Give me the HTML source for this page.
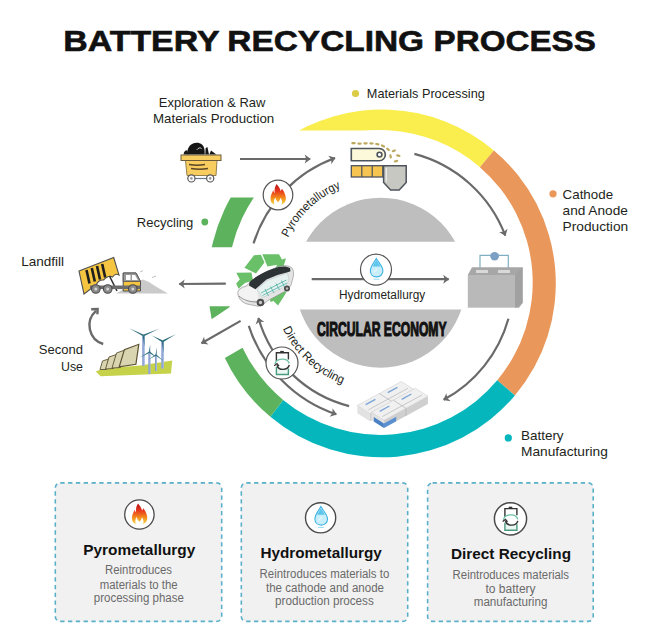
<!DOCTYPE html>
<html><head><meta charset="utf-8"><style>
html,body{margin:0;padding:0;background:#fff;}
body{width:650px;height:629px;position:relative;overflow:hidden;font-family:"Liberation Sans",sans-serif;}
svg.main{position:absolute;left:0;top:0;}
</style></head><body>
<svg class="main" width="650" height="629" viewBox="0 0 650 629">
<defs>
 <clipPath id="cy"><rect x="375" y="0" width="300" height="400"/><rect x="0" y="0" width="400" height="130.5"/></clipPath>
 <clipPath id="cg1"><rect x="0" y="197.6" width="400" height="49.6"/></clipPath>
 <clipPath id="cg2"><polygon points="195,306.2 231,306.2 200,327"/></clipPath>
 <clipPath id="cd"><rect x="0" y="0" width="650" height="241.8"/><rect x="0" y="309.4" width="650" height="100"/></clipPath>
 <marker id="ah" viewBox="-6 -5 7 10" refX="0" refY="0" markerWidth="7" markerHeight="10" markerUnits="userSpaceOnUse" orient="auto">
   <path d="M0.5,0 L-5.5,-4.5 L-4,0 L-5.5,4.5 Z" fill="#6a6a6a"/>
 </marker>
 <linearGradient id="gfl" gradientUnits="userSpaceOnUse" x1="0" y1="-11" x2="0" y2="9.5"><stop offset="0" stop-color="#b5121b"/><stop offset="0.35" stop-color="#e8391d"/><stop offset="0.7" stop-color="#f3921d"/><stop offset="1" stop-color="#f6d54a"/></linearGradient>
</defs>
<path d="M282.16,140.95 A173.9,173.9 0 0 1 493.91,150.38 L479.88,167.13 A152.4,152.4 0 0 0 292.89,157.66 Z" fill="#f9ee4e" clip-path="url(#cy)"/>
<path d="M493.91,150.38 A173.9,173.9 0 0 1 514.92,395.41 L497.22,380.26 A152.4,152.4 0 0 0 479.88,167.13 Z" fill="#e9975a"/>
<path d="M514.92,395.41 A173.9,173.9 0 0 1 270.35,416.81 L283.16,399.93 A152.4,152.4 0 0 0 497.22,380.26 Z" fill="#05b6bc"/>
<path d="M270.35,416.81 A173.9,173.9 0 0 1 224.81,357.99 L242.52,347.63 A152.4,152.4 0 0 0 283.16,399.93 Z" fill="#5db35d"/>
<path d="M218.49,342.88 A173.9,173.9 0 0 1 322.42,119.99 L328.18,139.29 A152.4,152.4 0 0 0 237.09,334.62 Z" fill="#5db35d" clip-path="url(#cg1)"/>
<path d="M218.49,342.88 A173.9,173.9 0 0 1 218.49,223.92 L237.09,230.38 A152.4,152.4 0 0 0 237.09,334.62 Z" fill="#5db35d" clip-path="url(#cg2)"/>
<circle cx="380.6" cy="282.7" r="85" fill="#bebebe" clip-path="url(#cd)"/>
<path d="M240,159 L310.2,159" stroke="#6a6a6a" stroke-width="2.2" fill="none" marker-end="url(#ah)"/>
<path d="M253.52,243.45 A133,133 0 0 1 335.01,158.02" stroke="#6a6a6a" stroke-width="2.2" fill="none" marker-end="url(#ah)"/>
<path d="M414.38,153.87 A133.5,133.5 0 0 1 505.30,235.59" stroke="#6a6a6a" stroke-width="2.2" fill="none" marker-end="url(#ah)"/>
<path d="M508.41,318.71 A132.8,132.8 0 0 1 443.66,399.82" stroke="#6a6a6a" stroke-width="2.2" fill="none" marker-end="url(#ah)"/>
<path d="M311.7,279.2 L448.7,279.2" stroke="#6a6a6a" stroke-width="2.2" fill="none" marker-end="url(#ah)"/>
<path d="M225.8,283.6 L179.2,284" stroke="#6a6a6a" stroke-width="2.2" fill="none" marker-end="url(#ah)"/>
<path d="M240.6,320.9 L201.5,343.3" stroke="#6a6a6a" stroke-width="2.2" fill="none" marker-end="url(#ah)"/>
<path d="M349.13,406.06 A127,127 0 0 1 258.42,318.01" stroke="#6a6a6a" stroke-width="2.2" fill="none" marker-end="url(#ah)"/>
<path d="M248.78,325.80 A138.5,138.5 0 0 0 336.32,414.27" stroke="#6a6a6a" stroke-width="2.2" fill="none" marker-end="url(#ah)"/>
<path d="M103.2,344 A19.5,19.5 0 0 1 96,310.8" stroke="#6a6a6a" stroke-width="2.4" fill="none"/>
<path d="M91.2,309.2 L97.6,309 L97.4,314.2" stroke="#6a6a6a" stroke-width="2.4" fill="none" stroke-linejoin="miter"/>
<circle cx="278" cy="195" r="14.8" fill="#fff" stroke="#555" stroke-width="1.2"/><g transform="translate(278,195)"><path d="M-1.3,-11 C0.2,-8.5 2.2,-7 2.6,-3.8 C3.1,-4.6 3.5,-5.3 3.9,-6.2 C6.3,-3.2 8,0.5 7.9,3.8 C7.8,6.8 6,8.7 3.6,9.5 C4.5,7 4,4.5 2.5,2.8 C2.2,5 1,6.5 0,7.2 C-1.2,6.3 -2.3,4.6 -2.6,2.6 C-3.8,4 -4.6,6.5 -3.6,9.5 C-6,8.8 -7.6,6.6 -7.5,3.5 C-7.4,0.5 -6,-2.2 -4.7,-4.8 C-4.4,-3.6 -4,-2.6 -3.3,-1.9 C-3.7,-5.5 -3.2,-8.6 -1.3,-11 Z" fill="url(#gfl)"/></g>
<circle cx="376" cy="269.6" r="15.5" fill="#fff" stroke="#555" stroke-width="1.2"/><g transform="translate(376,269.6)"><path d="M0.3,-11.2 C2.5,-7 6.9,-3.3 6.9,1.2 C6.9,4.9 4.2,7.3 0.6,7.3 C-3,7.3 -5.7,4.9 -5.7,1.2 C-5.7,-3.3 -1.9,-7 0.3,-11.2 Z" fill="#c9eefb" stroke="#3cb1e3" stroke-width="1.1"/><path d="M0.3,-9.5 C1.5,-7 3.5,-5 4.2,-3 L-3.4,-3 C-2.5,-5 -0.9,-7 0.3,-9.5 Z" fill="#5cc5ec"/><path d="M-2,2.5 L1.5,-1" stroke="#e8f8fd" stroke-width="1.2"/><path d="M-2.5,9.6 L3.5,9.6" stroke="#9adaf1" stroke-width="1"/></g>
<circle cx="282" cy="363" r="16" fill="#fff" stroke="#555" stroke-width="1.2"/><g transform="translate(282,363)"><path d="M-1.8,-11.3 L1.8,-11.3" stroke="#333" stroke-width="1.6"/><path d="M-5.6,-2 L-5.6,-10.2 L6.4,-10.2 L6.4,-3.5" stroke="#333" stroke-width="1.4" fill="none"/><path d="M-5.6,4 L-5.6,11.5 L6.4,11.5 L6.4,5.5" stroke="#4a9a80" stroke-width="1.4" fill="#eaf7f2"/><path d="M-7,1 C-6,-5 5.5,-6 7.2,0.5" stroke="#6dbfa5" stroke-width="1.3" fill="none"/><path d="M7.3,2 C6,7.5 -3.5,8 -5,2.2" stroke="#333" stroke-width="1.4" fill="none"/><path d="M-7.8,2.8 L-5,0.6 L-3,3.2" stroke="#333" stroke-width="1.3" fill="none"/></g>
<path id="pyp" d="M287.15,239.47 A103,103 0 0 1 366.17,181.00" fill="none"/>
<text font-family="Liberation Sans" font-size="12" fill="#231f20"><textPath href="#pyp" startOffset="2" textLength="74" lengthAdjust="spacingAndGlyphs">Pyrometallurgy</textPath></text>
<path id="drp" d="M280.55,323.38 A107.8,107.8 0 0 0 371.10,390.39" fill="none"/>
<text font-family="Liberation Sans" font-size="12" fill="#231f20"><textPath href="#drp" startOffset="6" textLength="83" lengthAdjust="spacingAndGlyphs">Direct Recycling</textPath></text>
<text x="158.8" y="106.9" font-family="Liberation Sans" font-size="13.1" font-weight="normal" fill="#231f20" text-anchor="start" textLength="106.6" lengthAdjust="spacingAndGlyphs">Exploration &amp; Raw</text>
<text x="153.0" y="123.1" font-family="Liberation Sans" font-size="13.1" font-weight="normal" fill="#231f20" text-anchor="start" textLength="121.2" lengthAdjust="spacingAndGlyphs">Materials Production</text>
<circle cx="355.5" cy="93.5" r="3.6" fill="#dccb45"/>
<text x="366.8" y="97.7" font-family="Liberation Sans" font-size="13.1" font-weight="normal" fill="#231f20" text-anchor="start" textLength="118.0" lengthAdjust="spacingAndGlyphs">Materials Processing</text>
<circle cx="553" cy="193.8" r="3.6" fill="#e9975a"/>
<text x="562.6" y="198.5" font-family="Liberation Sans" font-size="13.1" font-weight="normal" fill="#231f20" text-anchor="start" textLength="50.5" lengthAdjust="spacingAndGlyphs">Cathode</text>
<text x="562.6" y="214.8" font-family="Liberation Sans" font-size="13.1" font-weight="normal" fill="#231f20" text-anchor="start" textLength="65.2" lengthAdjust="spacingAndGlyphs">and Anode</text>
<text x="562.6" y="231.3" font-family="Liberation Sans" font-size="13.1" font-weight="normal" fill="#231f20" text-anchor="start" textLength="65.6" lengthAdjust="spacingAndGlyphs">Production</text>
<circle cx="508.3" cy="437.9" r="3.6" fill="#05b6bc"/>
<text x="521.0" y="440.3" font-family="Liberation Sans" font-size="13.1" font-weight="normal" fill="#231f20" text-anchor="start" textLength="42.6" lengthAdjust="spacingAndGlyphs">Battery</text>
<text x="521.0" y="456.3" font-family="Liberation Sans" font-size="13.1" font-weight="normal" fill="#231f20" text-anchor="start" textLength="86.8" lengthAdjust="spacingAndGlyphs">Manufacturing</text>
<text x="136.8" y="226.5" font-family="Liberation Sans" font-size="13.1" font-weight="normal" fill="#231f20" text-anchor="start" textLength="56.5" lengthAdjust="spacingAndGlyphs">Recycling</text>
<circle cx="204.8" cy="222" r="3.4" fill="#5db35d"/>
<text x="21.2" y="266.2" font-family="Liberation Sans" font-size="13.1" font-weight="normal" fill="#231f20" text-anchor="start" textLength="42.9" lengthAdjust="spacingAndGlyphs">Landfill</text>
<text x="83.0" y="354.3" font-family="Liberation Sans" font-size="13.1" font-weight="normal" fill="#231f20" text-anchor="end" textLength="44.2" lengthAdjust="spacingAndGlyphs">Second</text>
<text x="83.0" y="370.5" font-family="Liberation Sans" font-size="13.1" font-weight="normal" fill="#231f20" text-anchor="end" textLength="22.0" lengthAdjust="spacingAndGlyphs">Use</text>
<text x="339.0" y="299.2" font-family="Liberation Sans" font-size="12" font-weight="normal" fill="#231f20" text-anchor="start" textLength="86.2" lengthAdjust="spacingAndGlyphs">Hydrometallurgy</text>
<text x="317" y="336.3" font-family="Liberation Sans" font-size="19.4" font-weight="bold" fill="#111" stroke="#111" stroke-width="1.1" textLength="129.6" lengthAdjust="spacingAndGlyphs">CIRCULAR ECONOMY</text>
<text x="63.2" y="50.8" font-family="Liberation Sans" font-size="30.3" font-weight="bold" fill="#111" stroke="#111" stroke-width="0.6" textLength="156.4" lengthAdjust="spacingAndGlyphs">BATTERY</text>
<text x="227.3" y="50.8" font-family="Liberation Sans" font-size="30.3" font-weight="bold" fill="#111" stroke="#111" stroke-width="0.6" textLength="196.8" lengthAdjust="spacingAndGlyphs">RECYCLING</text>
<text x="433.6" y="50.8" font-family="Liberation Sans" font-size="30.3" font-weight="bold" fill="#111" stroke="#111" stroke-width="0.6" textLength="162.2" lengthAdjust="spacingAndGlyphs">PROCESS</text>

<g>
 <path d="M187.6,154.5 C186.8,150.5 188.5,146.5 191.2,144.6 C193,142.6 198,141.8 201,143.8 C203.6,145.4 205,148.5 204.7,154.5 Z" fill="#161616"/>
 <path d="M183.6,154.5 C183.6,152 185,150.2 187.2,150.2 L188.4,154.5 Z" fill="#161616"/>
 <path d="M205.3,154.5 L205.6,148.2 L207.4,147 L209,154.5 Z" fill="#161616"/>
 <path d="M209.4,154.5 L211,150.6 L216.4,154.5 Z" fill="#161616"/>
 <path d="M196.8,149.8 C198.4,147.6 200.6,147.4 201.6,148.6" stroke="#fff" stroke-width="0.8" fill="none"/>
 <path d="M185.5,160.5 L217,160.5 L216,175.5 L187,175.5 Z" fill="#f7cd5f" stroke="#8a7444" stroke-width="0.9"/>
 <rect x="181" y="155" width="40" height="5.5" fill="#f7cd5f" stroke="#6b5b3b" stroke-width="1"/>
 <path d="M189,164.5 Q197,166 205,164.5" stroke="#5a4526" stroke-width="1.4" fill="none"/>
 <path d="M191,168.5 Q199.5,170 208,168.5" stroke="#5a4526" stroke-width="1.4" fill="none"/>
 <path d="M195,178.5 L206.5,178.5" stroke="#6a7890" stroke-width="1.2"/>
 <circle cx="191.4" cy="178.4" r="3.6" fill="#fff" stroke="#555" stroke-width="1.2"/>
 <circle cx="191.4" cy="178.4" r="1.3" fill="#999"/>
 <circle cx="210.2" cy="178.4" r="3.6" fill="#fff" stroke="#555" stroke-width="1.2"/>
 <circle cx="210.2" cy="178.4" r="1.3" fill="#999"/>
</g>

<g>
 <path d="M352.4,143.2 L354.6,143.2 M358.4,143.6 L360.6,143.6 M364.4,143.3 L366.6,143.3 M370.4,143.3 L372.6,143.5 M376.2,144.0 L378.4,144.4 M382.0,145.5 L384.0,146.5 M387.2,148.6 L388.8,150.0 M392.8,151.2 L394.8,150.4 M390.4,155.3 L390.8,157.5 M397.2,155.4 L399.4,155.8 M394.9,161.5 L397.1,160.9" stroke="#bca85e" stroke-width="2.2" stroke-linecap="round" fill="none"/>
 <path d="M351.3,148.5 L379.2,148.5 A6.15,6.15 0 0 1 379.2,160.8 L351.3,160.8 Z" fill="#fbf9d9" stroke="#4d545c" stroke-width="1.6"/>
 <circle cx="379.5" cy="154.6" r="2.4" fill="#fff" stroke="#4d545c" stroke-width="1.6"/>
 <rect x="351.3" y="165.7" width="31.5" height="11.3" fill="#f6c450" stroke="#4d545c" stroke-width="1.3"/>
 <path d="M361.8,165.7 L361.8,177 M372.2,165.7 L372.2,177" stroke="#4d545c" stroke-width="1.2"/>
 <path d="M383.6,165.7 L406.2,165.7 L406.2,182.4 L399.2,190 L390.6,190 L383.6,182.4 Z" fill="#c8c8c3" stroke="#4d545c" stroke-width="1.5"/>
 <path d="M386.3,168 L386.3,181.5" stroke="#eeeeea" stroke-width="1.2"/>
</g>

<g>
 <path d="M480,268 L480,255.3 L508.3,255.3 L508.3,268" stroke="#7fb0c2" stroke-width="1.2" fill="none"/>
 <circle cx="494.6" cy="256.2" r="4.3" fill="#7c9fc4"/>
 <path d="M467.8,275 L472,267.2 L522.6,267.2 L522.6,303 L519,307.7 L515,307.7 L515,275 Z" fill="#a7a7a7"/>
 <rect x="467.8" y="275" width="47.2" height="32.7" fill="#b9b9b9"/>
 <path d="M515,275 L522.6,267.2 L522.6,303 L515,307.7 Z" fill="#a1a1a1"/>
 <rect x="476" y="270" width="12" height="3" fill="#d9d9d9"/>
 <rect x="498" y="270" width="12" height="3" fill="#d9d9d9"/>
</g>
<g><path d="M369.9,413.5 L413.9,389.5 L413.9,397.3 L369.9,421.3 Z" fill="#cfcfcf"/><path d="M357.3,405.5 L369.9,413.5 L369.9,421.3 L357.3,413.3 Z" fill="#e2e2e2"/><path d="M357.3,405.5 L369.9,413.5 L413.9,389.5 L401.3,381.5 Z" fill="#f0f0f0" stroke="#c8c8c8" stroke-width="0.5"/><path d="M379.3,393.5 L391.9,401.5 L391.9,409.3" stroke="#b5b5b5" stroke-width="0.7" fill="none"/><path d="M365.7,404.6 L375.4,399.3" stroke="#7aa5d8" stroke-width="1.4"/><path d="M387.7,392.6 L397.4,387.3" stroke="#7aa5d8" stroke-width="1.4"/><path d="M368.3,409.9 L407.9,388.3" stroke="#bdbdbd" stroke-width="0.8"/><path d="M383.9,420.2 L427.9,396.2 L427.9,404.0 L383.9,428.0 Z" fill="#cfcfcf"/><path d="M371.3,412.2 L383.9,420.2 L383.9,428.0 L371.3,420.0 Z" fill="#e2e2e2"/><path d="M371.3,412.2 L383.9,420.2 L427.9,396.2 L415.3,388.2 Z" fill="#f0f0f0" stroke="#c8c8c8" stroke-width="0.5"/><path d="M393.3,400.2 L405.9,408.2 L405.9,416.0" stroke="#b5b5b5" stroke-width="0.7" fill="none"/><path d="M379.7,411.3 L389.4,406.0" stroke="#7aa5d8" stroke-width="1.4"/><path d="M401.7,399.3 L411.4,394.0" stroke="#7aa5d8" stroke-width="1.4"/><path d="M382.3,416.6 L421.9,395.0" stroke="#bdbdbd" stroke-width="0.8"/><path d="M373.8,417.0 L383.9,423.4 L383.9,428.0 L373.8,421.6 Z" fill="#4a80c4"/><path d="M383.9,423.4 L396.2,416.7 L396.2,421.3 L383.9,428.0 Z" fill="#5a8fd0"/></g>

<g>
 <path d="M244.4,267.7 L254,255.2 L260.8,254.8 L264.5,262.5 L256,273.4 Z" fill="#6abf69"/>
 <path d="M262.3,254.3 L279,254.3 L282,259.6 L286,258.2 L283.5,266.5 L275,268.5 L277.3,264.8 L267.5,266.5 Z" fill="#6abf69"/>
 <path d="M236.3,272.8 L251.5,272.4 L253,280.5 L245,283 L238.5,288.8 L236.2,283.5 L239.8,279.5 Z" fill="#6abf69"/>
 <path d="M268.5,292.5 L286.8,291.5 L283.5,297 L278,305.5 L273.5,301 L270.5,302 Z" fill="#6abf69"/>
 <path d="M237.8,293.5 C237.5,289.5 241,287.5 246,286 L250,282.5 C256,277 266,271 279,266.5 C284,265 289,265.5 291.5,267.5 C293.5,269.5 294,273 293.2,277 L291,285 C289,289 285,291.5 280,294 L268,300.5 C265,303 262,306.3 258,306.3 L247,304 C242,302.5 238.5,299 237.8,293.5 Z" fill="#e4e4e4" stroke="#8a8a8a" stroke-width="0.6"/>
 <path d="M238.6,292.5 C240,289.2 244,287.5 249,286.5 L257,289.5 L258.5,300 L246,301.5 C242,300.5 239.2,297 238.6,292.5 Z" fill="#f3f3f3"/>
 <path d="M249.5,282 C256,276 265,271 278.5,267 C283,266 287.5,266.3 290,268 L290.5,271.2 L287.7,272.2 L277.5,274.9 L266.5,279.5 L255.4,289.2 L249,285.5 Z" fill="#2d3235"/>
 <path d="M257,289.5 L267,280.5 L287.5,273 L289,280 L286,286 L262.5,297.5 Z" fill="#e6f1f0" stroke="#a9b9b9" stroke-width="0.4"/>
 <path d="M261,293 L286.5,280 M262.5,295.5 L287,283 M265,289 L268.5,296 M270.5,286.5 L274,293 M276,283.5 L279.5,290 M281.5,280.5 L284.5,287" stroke="#3aa898" stroke-width="0.7"/>
 <path d="M239,296 C243,300 250,302 257,302" stroke="#7a7a7a" stroke-width="0.8" fill="none"/>
 <circle cx="260.5" cy="302.5" r="3.8" fill="#4d4d4d"/>
 <circle cx="260.5" cy="302.5" r="1.7" fill="#c8c8c8"/>
 <circle cx="287" cy="288.5" r="3" fill="#4d4d4d"/>
 <circle cx="287" cy="288.5" r="1.2" fill="#bbb"/>
</g>

<g>
 <path d="M116,293.5 L124,289 L131,285 L137,281.5 L143,279.5 L149,282 L155,286 L161,289.5 L168,293.5 Z" fill="#cacaca"/>
 <path d="M140,272 L143,270.5 M152,277.5 L156,276" stroke="#b8b8b8" stroke-width="0.9"/>
 <path d="M79,271 L113.7,257.5 L119,275 C116.5,273.5 114,275 112.5,277 C109.5,275 106,277.5 103.5,280 C100,279.5 97.5,282 96,285 L84,294 Z" fill="#f5c542" stroke="#4f4f4f" stroke-width="1.1"/>
 <path d="M86.5,270 L89.5,283.5 M91.8,268 L94.8,281.5 M97,266 L100,279.5 M102.2,264 L105.2,277.5" stroke="#1d1d1d" stroke-width="2.6"/>
 <path d="M109.5,276 L117,291" stroke="#333" stroke-width="1.6"/>
 <path d="M123.2,273 L136,273 L140.5,281.5 L140.5,291 L123.2,291 Z" fill="#f5c542" stroke="#4f4f4f" stroke-width="1"/>
 <path d="M123.2,273 L136,273 L140.5,281.5 L123.2,281.5 Z" fill="#9a9a9a" stroke="#4f4f4f" stroke-width="0.8"/>
 <path d="M126,275 L130.5,275 L130.5,280 L126,280 Z M132,275 L135,275 L137.8,280 L132,280 Z" fill="#fff"/>
 <rect x="90" y="285.5" width="50.5" height="3.6" fill="#6c6c6c"/>
 <circle cx="95.8" cy="289" r="4.3" fill="#8a8a8a" stroke="#4a4a4a" stroke-width="1.1"/>
 <circle cx="107.7" cy="289" r="4.3" fill="#8a8a8a" stroke="#4a4a4a" stroke-width="1.1"/>
 <circle cx="132.8" cy="289" r="4.3" fill="#8a8a8a" stroke="#4a4a4a" stroke-width="1.1"/>
 <circle cx="95.8" cy="289" r="1.5" fill="#d5d5d5"/>
 <circle cx="107.7" cy="289" r="1.5" fill="#d5d5d5"/>
 <circle cx="132.8" cy="289" r="1.5" fill="#d5d5d5"/>
</g>

<g>
 <path d="M95.8,371.5 L103,368.5 L140,365.5 L172.2,360.5 L171,373.6 L100.6,376.3 Z" fill="#c6d24a"/>
 <path d="M100,369.5 L102.5,361 L108.5,359 L106.5,369.5 Z" fill="#d8d5b0" stroke="#5e5235" stroke-width="0.9"/>
 <path d="M105.5,369 L109,357 L116.5,354.5 L113.5,368.5 Z" fill="#d8d5b0" stroke="#5e5235" stroke-width="0.9"/>
 <path d="M112,368 L116.5,353 L125,350 L120.5,367.5 Z" fill="#d8d5b0" stroke="#5e5235" stroke-width="0.9"/>
 <path d="M119.2,366.8 L124.4,349.6 L138.8,344.3 L135.9,364.3 Z" fill="#d8d5b0" stroke="#5e5235" stroke-width="1.2"/>
 <path d="M143.5,335.5 L143.5,366" stroke="#a3b8e2" stroke-width="2.6"/><path d="M143.0,336.5 L143.0,366" stroke="#7f95c4" stroke-width="0.8"/><path d="M143.9,334.7 L129.2,328.3 L143.1,336.3 Z" fill="#2f6e7d"/><path d="M143.9,336.3 L159.0,328.8 L143.1,334.7 Z" fill="#2f6e7d"/><path d="M142.6,335.6 L144.5,346.5 L144.4,335.4 Z" fill="#2f6e7d"/>
 <path d="M162.6,341.4 L162.6,368.5" stroke="#a3b8e2" stroke-width="2.6"/><path d="M162.1,342.4 L162.1,368.5" stroke="#7f95c4" stroke-width="0.8"/><path d="M163.0,342.2 L175.8,334.3 L162.2,340.6 Z" fill="#2f6e7d"/><path d="M163.0,340.6 L151.9,335.5 L162.2,342.2 Z" fill="#2f6e7d"/><path d="M161.7,341.5 L163.5,352.5 L163.5,341.3 Z" fill="#2f6e7d"/>
 <path d="M149.5,352.2 L149.5,374" stroke="#a3b8e2" stroke-width="2.2"/><path d="M149.0,353.2 L149.0,374" stroke="#7f95c4" stroke-width="0.8"/><path d="M150.2,352.3 L150.2,344.5 L148.8,352.1 Z" fill="#2f6e7d"/><path d="M149.2,351.6 L140.0,357.5 L149.8,352.8 Z" fill="#2f6e7d"/><path d="M149.1,352.8 L158.0,358.5 L149.9,351.6 Z" fill="#2f6e7d"/>
 <path d="M156,355 L156,371" stroke="#a3b8e2" stroke-width="2.0"/><path d="M155.5,356 L155.5,371" stroke="#7f95c4" stroke-width="0.8"/><path d="M156.6,355.1 L157.0,347.5 L155.4,354.9 Z" fill="#2f6e7d"/><path d="M155.7,354.4 L148.5,359.5 L156.3,355.6 Z" fill="#2f6e7d"/><path d="M155.6,355.5 L163.5,361.0 L156.4,354.5 Z" fill="#2f6e7d"/>
</g>
<rect x="55.3" y="482.9" width="166.4" height="138.5" rx="5" fill="#f1f1f1" stroke="#5aafc9" stroke-width="1.6" stroke-dasharray="4.3 3.5"/>
<rect x="241.3" y="482.9" width="166.4" height="138.5" rx="5" fill="#f1f1f1" stroke="#5aafc9" stroke-width="1.6" stroke-dasharray="4.3 3.5"/>
<rect x="427.6" y="482.9" width="165.6" height="138.5" rx="5" fill="#f1f1f1" stroke="#5aafc9" stroke-width="1.6" stroke-dasharray="4.3 3.5"/>
<circle cx="139.4" cy="514.5" r="14.7" fill="#fff" stroke="#4a4a4a" stroke-width="1.3"/><g transform="translate(139.4,514.5)"><path d="M-1.3,-11 C0.2,-8.5 2.2,-7 2.6,-3.8 C3.1,-4.6 3.5,-5.3 3.9,-6.2 C6.3,-3.2 8,0.5 7.9,3.8 C7.8,6.8 6,8.7 3.6,9.5 C4.5,7 4,4.5 2.5,2.8 C2.2,5 1,6.5 0,7.2 C-1.2,6.3 -2.3,4.6 -2.6,2.6 C-3.8,4 -4.6,6.5 -3.6,9.5 C-6,8.8 -7.6,6.6 -7.5,3.5 C-7.4,0.5 -6,-2.2 -4.7,-4.8 C-4.4,-3.6 -4,-2.6 -3.3,-1.9 C-3.7,-5.5 -3.2,-8.6 -1.3,-11 Z" fill="url(#gfl)"/></g>
<circle cx="320.6" cy="517.8" r="15.1" fill="#fff" stroke="#4a4a4a" stroke-width="1.4"/><g transform="translate(320.6,517.8)"><path d="M0.3,-11.2 C2.5,-7 6.9,-3.3 6.9,1.2 C6.9,4.9 4.2,7.3 0.6,7.3 C-3,7.3 -5.7,4.9 -5.7,1.2 C-5.7,-3.3 -1.9,-7 0.3,-11.2 Z" fill="#c9eefb" stroke="#3cb1e3" stroke-width="1.1"/><path d="M0.3,-9.5 C1.5,-7 3.5,-5 4.2,-3 L-3.4,-3 C-2.5,-5 -0.9,-7 0.3,-9.5 Z" fill="#5cc5ec"/><path d="M-2,2.5 L1.5,-1" stroke="#e8f8fd" stroke-width="1.2"/><path d="M-2.5,9.6 L3.5,9.6" stroke="#9adaf1" stroke-width="1"/></g>
<circle cx="510.5" cy="518.8" r="16.1" fill="#fff" stroke="#4a4a4a" stroke-width="1.5"/><g transform="translate(510.5,518.8)"><path d="M-1.8,-11.3 L1.8,-11.3" stroke="#333" stroke-width="1.6"/><path d="M-5.6,-2 L-5.6,-10.2 L6.4,-10.2 L6.4,-3.5" stroke="#333" stroke-width="1.4" fill="none"/><path d="M-5.6,4 L-5.6,11.5 L6.4,11.5 L6.4,5.5" stroke="#4a9a80" stroke-width="1.4" fill="#eaf7f2"/><path d="M-7,1 C-6,-5 5.5,-6 7.2,0.5" stroke="#6dbfa5" stroke-width="1.3" fill="none"/><path d="M7.3,2 C6,7.5 -3.5,8 -5,2.2" stroke="#333" stroke-width="1.4" fill="none"/><path d="M-7.8,2.8 L-5,0.6 L-3,3.2" stroke="#333" stroke-width="1.3" fill="none"/></g>
<text x="83.3" y="554.9" font-family="Liberation Sans" font-size="15.5" font-weight="bold" fill="#111" textLength="112.0" lengthAdjust="spacingAndGlyphs">Pyrometallurgy</text>
<text x="105.0" y="573.7" font-family="Liberation Sans" font-size="12" fill="#6a6a6a" textLength="67.0" lengthAdjust="spacingAndGlyphs">Reintroduces</text>
<text x="99.7" y="588.8" font-family="Liberation Sans" font-size="12" fill="#6a6a6a" textLength="78.0" lengthAdjust="spacingAndGlyphs">materials to the</text>
<text x="93.8" y="602.3" font-family="Liberation Sans" font-size="12" fill="#6a6a6a" textLength="90.0" lengthAdjust="spacingAndGlyphs">processing phase</text>
<text x="260.4" y="557.8" font-family="Liberation Sans" font-size="15.5" font-weight="bold" fill="#111" textLength="121.4" lengthAdjust="spacingAndGlyphs">Hydrometallurgy</text>
<text x="259.6" y="577.7" font-family="Liberation Sans" font-size="12" fill="#6a6a6a" textLength="129.7" lengthAdjust="spacingAndGlyphs">Reintroduces materials to</text>
<text x="266.0" y="591.7" font-family="Liberation Sans" font-size="12" fill="#6a6a6a" textLength="118.0" lengthAdjust="spacingAndGlyphs">the cathode and anode</text>
<text x="275.1" y="605" font-family="Liberation Sans" font-size="12" fill="#6a6a6a" textLength="98.7" lengthAdjust="spacingAndGlyphs">production process</text>
<text x="451.0" y="559.4" font-family="Liberation Sans" font-size="15.5" font-weight="bold" fill="#111" textLength="120.1" lengthAdjust="spacingAndGlyphs">Direct Recycling</text>
<text x="452.6" y="578.8" font-family="Liberation Sans" font-size="12" fill="#6a6a6a" textLength="116.4" lengthAdjust="spacingAndGlyphs">Reintroduces materials</text>
<text x="485.5" y="592.8" font-family="Liberation Sans" font-size="12" fill="#6a6a6a" textLength="50.1" lengthAdjust="spacingAndGlyphs">to battery</text>
<text x="473.7" y="605.7" font-family="Liberation Sans" font-size="12" fill="#6a6a6a" textLength="73.7" lengthAdjust="spacingAndGlyphs">manufacturing</text>
</svg>

</body></html>
